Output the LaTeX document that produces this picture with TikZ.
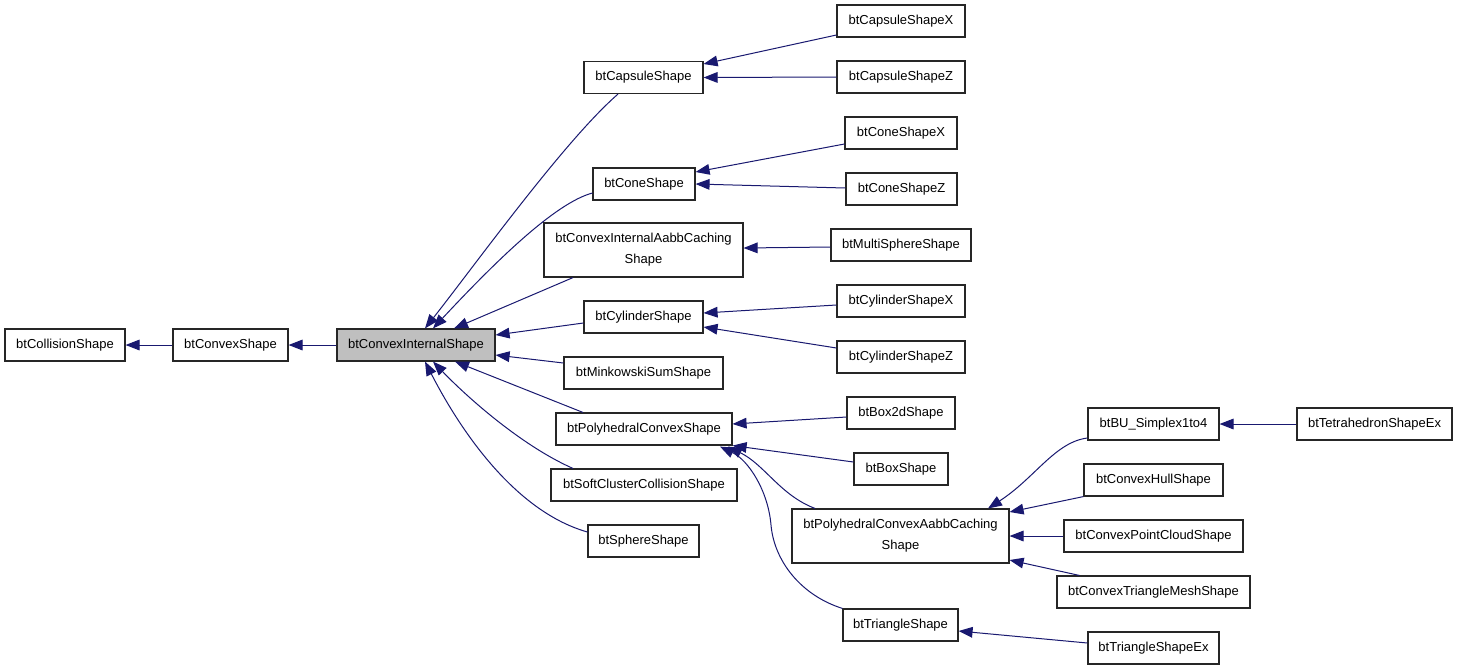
\documentclass[tikz,border=0pt]{standalone}
\usepackage{fontspec}
\setmainfont{Liberation Sans}
\usetikzlibrary{arrows.meta,calc}
\definecolor{edgeblue}{HTML}{191970}
\definecolor{cisgray}{HTML}{BFBFBF}
\begin{document}
\begin{tikzpicture}[x=0.75pt,y=-0.75pt,
  box/.style={draw=black!85, line width=0.85pt, inner sep=0pt, minimum height=24pt,
    font=\fontsize{9.75}{15.75}\selectfont, align=center, fill=white},
  tallbox/.style={box, minimum height=40.5pt},
  edge/.style={draw=edgeblue, line width=0.75pt, -{Triangle[length=10.5pt,width=8pt]}, fill=none}]
\useasboundingbox[fill=white] (0,0) rectangle (1459,669);
% nodes
\node[box, minimum width=90pt] (coll) at (65,345) {btCollisionShape};
\node[box, minimum width=86.25pt] (convex) at (230.5,345) {btConvexShape};
\node[box, minimum width=118.5pt, fill=cisgray] (cis) at (416,345) {btConvexInternalShape};
\node[box, minimum width=89.25pt] (capsule) at (643.5,77.5) {btCapsuleShape};
\node[box, minimum width=96pt] (capX) at (901,21) {btCapsuleShapeX};
\node[box, minimum width=96pt] (capZ) at (901,77) {btCapsuleShapeZ};
\node[box, minimum width=84pt] (coneX) at (901,133) {btConeShapeX};
\node[box, minimum width=76.5pt] (cone) at (644,184) {btConeShape};
\node[box, minimum width=83.25pt] (coneZ) at (901.5,189) {btConeShapeZ};
\node[tallbox, minimum width=149.25pt] (ciaabb) at (643.5,250) {btConvexInternalAabbCaching\\Shape};
\node[box, minimum width=105pt] (multi) at (901,245) {btMultiSphereShape};
\node[box, minimum width=89.25pt] (cyl) at (643.5,317) {btCylinderShape};
\node[box, minimum width=96pt] (cylX) at (901,301) {btCylinderShapeX};
\node[box, minimum width=96pt] (cylZ) at (901,357) {btCylinderShapeZ};
\node[box, minimum width=119.25pt] (mink) at (643.5,373) {btMinkowskiSumShape};
\node[box, minimum width=132pt] (poly) at (644,429) {btPolyhedralConvexShape};
\node[box, minimum width=81pt] (box2d) at (901,413) {btBox2dShape};
\node[box, minimum width=70.5pt] (boxs) at (901,469) {btBoxShape};
\node[box, minimum width=139.5pt] (soft) at (644,485) {btSoftClusterCollisionShape};
\node[box, minimum width=83.25pt] (sphere) at (643.5,541) {btSphereShape};
\node[tallbox, minimum width=162.75pt] (pabb) at (900.5,536) {btPolyhedralConvexAabbCaching\\Shape};
\node[box, minimum width=98.25pt] (bu) at (1153.5,424) {btBU\_Simplex1to4};
\node[box, minimum width=116.25pt] (tet) at (1374.5,424) {btTetrahedronShapeEx};
\node[box, minimum width=104.25pt] (hull) at (1153.5,480) {btConvexHullShape};
\node[box, minimum width=134.25pt] (pc) at (1153.5,536) {btConvexPointCloudShape};
\node[box, minimum width=144.75pt] (tm) at (1153.5,592) {btConvexTriangleMeshShape};
\node[box, minimum width=86.25pt] (tri) at (900.5,625) {btTriangleShape};
\node[box, minimum width=98.25pt] (triex) at (1153.5,648) {btTriangleShapeEx};
% edges
\draw[edge] (convex.west) -- (coll.east);
\draw[edge] (cis.west) -- (convex.east);
\draw[edge] ($(capsule.south)+(-25.5,0)$) .. controls (565,140) and (475,265) .. ($(cis.north)+(9,0)$);
\draw[edge] ($(cone.west)+(0,9)$) .. controls (555,203) and (495,262) .. ($(cis.north)+(17,0)$);
\draw[edge] ($(ciaabb.south)+(-70.5,0)$) -- ($(cis.north)+(38,0)$);
\draw[edge] ($(cyl.west)+(0,6)$) -- ($(cis.east)+(0,-10)$);
\draw[edge] ($(mink.west)+(0,-10)$) -- ($(cis.east)+(0,10)$);
\draw[edge] ($(poly.north)+(-61,0)$) -- ($(cis.south)+(39,0)$);
\draw[edge] ($(soft.north)+(-71,0)$) .. controls (520,445) and (465,395) .. ($(cis.south)+(17,0)$);
\draw[edge] ($(sphere.west)+(0,-9)$) .. controls (510,510) and (455,420) .. ($(cis.south)+(9,0)$);
\draw[edge] ($(capX.west)+(0,14)$) -- ($(capsule.east)+(0,-13.5)$);
\draw[edge] (capZ.west) -- (capsule.east);
\draw[edge] ($(coneX.west)+(0,11)$) -- ($(cone.east)+(0,-12)$);
\draw[edge] ($(coneZ.west)+(0,-1)$) -- (cone.east);
\draw[edge] ($(multi.west)+(0,2)$) -- ($(ciaabb.east)+(0,-2)$);
\draw[edge] ($(cylX.west)+(0,4)$) -- ($(cyl.east)+(0,-4)$);
\draw[edge] ($(cylZ.west)+(0,-9)$) -- ($(cyl.east)+(0,10)$);
\draw[edge] ($(box2d.west)+(0,4)$) -- ($(poly.east)+(0,-5)$);
\draw[edge] ($(boxs.west)+(0,-7)$) -- (poly.south east);
\draw[edge] ($(pabb.north)+(-85.5,0)$) .. controls (780,495) and (765,465) .. ($(poly.south)+(84,1)$);
\draw[edge] (tri.north west) .. controls (800,595) and (774,560) .. (771,525) .. controls (768,490) and (748,460) .. ($(poly.south)+(76,1)$);
\draw[edge] ($(bu.west)+(0,14)$) .. controls (1055,442) and (1035,478) .. ($(pabb.north)+(87.5,0)$);
\draw[edge] (hull.south west) -- ($(pabb.east)+(0,-24)$);
\draw[edge] (pc.west) -- (pabb.east);
\draw[edge] ($(tm.north west)+(23,0)$) -- ($(pabb.east)+(0,24)$);
\draw[edge] (tet.west) -- (bu.east);
\draw[edge] ($(triex.west)+(0,-5)$) -- ($(tri.east)+(0,6)$);
\end{tikzpicture}
\end{document}
